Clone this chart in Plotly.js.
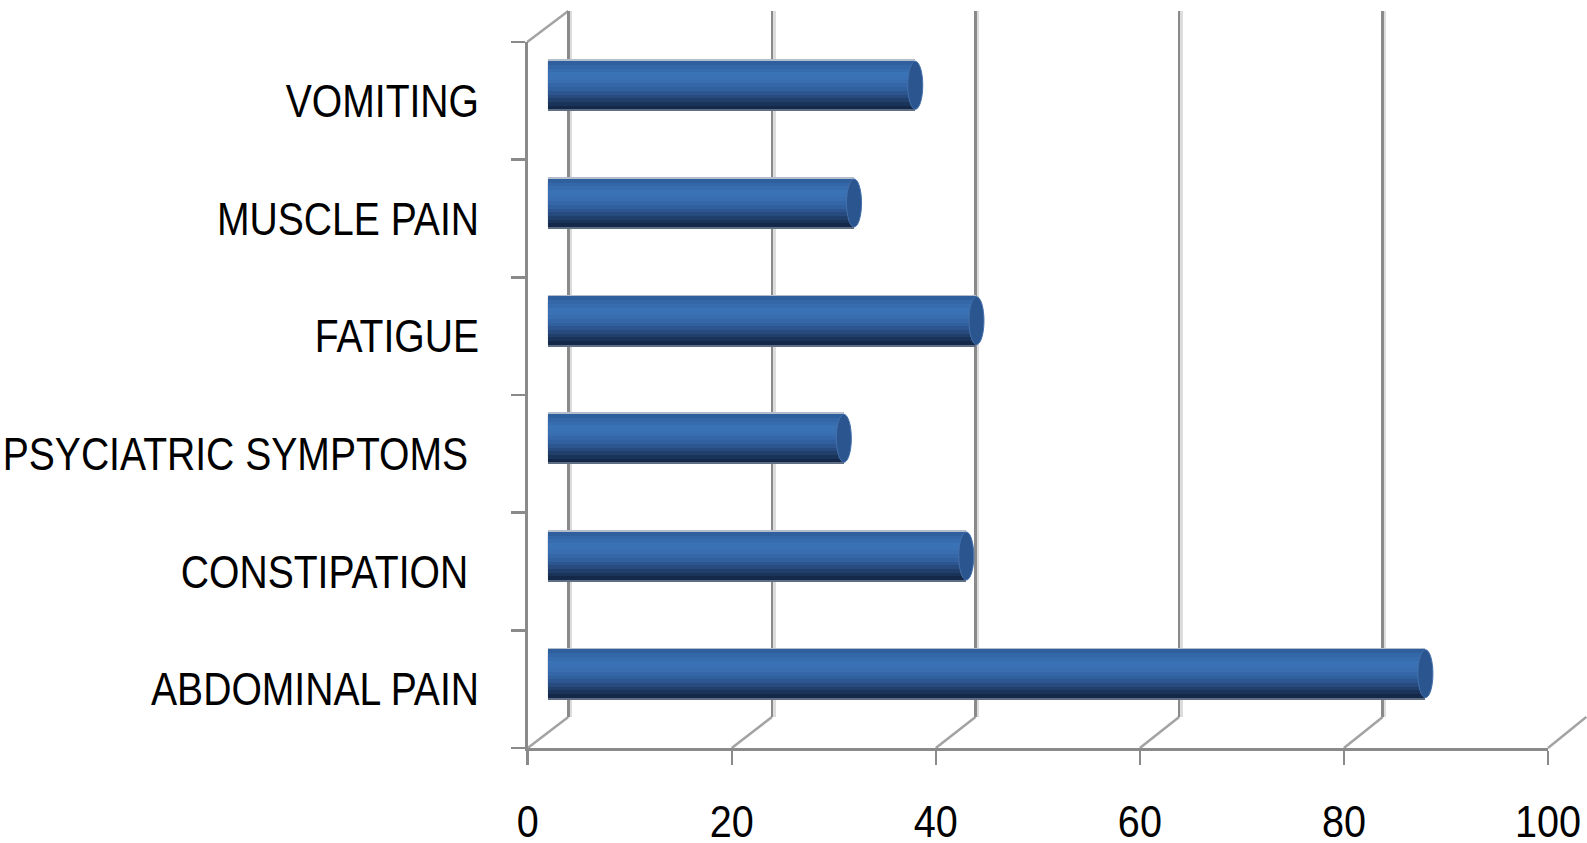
<!DOCTYPE html>
<html>
<head>
<meta charset="utf-8">
<script src="https://cdn.plot.ly/plotly-3.0.1.min.js"></script>
<style>
html,body{margin:0;padding:0;background:#fff;overflow:hidden;}
#chart{width:1587px;height:843px;}
/* the reference uses a condensed face: squeeze the real text labels */
#chart .yaxislayer-above g.ytick{transform-box:fill-box;transform-origin:100% 50%;transform:scaleX(0.85);}
#chart .xaxislayer-above g.xtick{transform-box:fill-box;transform-origin:50% 50%;transform:scaleX(0.9);}
</style>
</head>
<body>
<div id="chart"></div>
<script>
// ---- data (bottom to top, as Plotly lists categories) ----
var categories = ["ABDOMINAL PAIN", "CONSTIPATION", "PSYCIATRIC SYMPTOMS", "FATIGUE", "MUSCLE PAIN", "VOMITING"];
var values = [86, 41, 29, 42, 30, 36];
var yTickText = ["ABDOMINAL PAIN", "CONSTIPATION\u00a0", "PSYCIATRIC SYMPTOMS\u00a0", "FATIGUE", "MUSCLE PAIN", "VOMITING"];
var xTickVals = [0, 20, 40, 60, 80, 100];
var xTickText = ["0", "20", "40", "60", "80", "100"];

// ---- geometry of the pseudo-3D frame (pixels) ----
var W = 1587, H = 843;
var FX0 = 527.7, FX1 = 1548;   // front plane: x of 0 and 100
var FYT = 42, FYB = 748;       // front plane: top and bottom
var BX0 = 568.3, BPPU = 10.18; // back wall: x of 0, pixels per unit
var DX = 40.5, DY = 31;        // depth offset to the back wall
function px(x) { return x / W; }
function py(y) { return 1 - y / H; }
var pxPerUnit = (FX1 - FX0) / 100;

var T = 0.408;  // bar thickness in category units
var FONT = "'Liberation Sans', Arial, sans-serif";

function helper(xa, ya) {
  return {type: 'scatter', x: values, y: categories, xaxis: xa, yaxis: ya,
    mode: 'markers', marker: {opacity: 0}, hoverinfo: 'skip', showlegend: false};
}
var traces = [helper('x', 'y'), helper('x2', 'y2'), helper('x3', 'y3')];

// bar edges
var e = 0.016;
traces.push({type: 'bar', orientation: 'h', x: values, y: categories, xaxis: 'x4', yaxis: 'y4',
  width: T / 2 + e, offset: 0, marker: {color: '#b3bdcb', line: {width: 0}}, hoverinfo: 'skip', showlegend: false});
traces.push({type: 'bar', orientation: 'h', x: values, y: categories, xaxis: 'x4', yaxis: 'y4',
  width: T / 2 + e, offset: -T / 2 - e, marker: {color: '#5f6e82', line: {width: 0}}, hoverinfo: 'skip', showlegend: false});

// cylinder shading stripes, bottom to top
var stripes = ['#14294a', '#1a3459', '#203f6b', '#274b7f', '#2d5690', '#31609e', '#3567a8',
               '#386db0', '#3a71b5', '#3a72b6', '#376dae', '#3367a7', '#2f5f9d'];
var n = stripes.length;
for (var k = 0; k < n; k++) {
  traces.push({type: 'bar', orientation: 'h', x: values, y: categories, xaxis: 'x4', yaxis: 'y4',
    width: T / n + 0.002, offset: -T / 2 + k * T / n,
    marker: {color: stripes[k], line: {width: 0}}, hoverinfo: 'skip', showlegend: false});
}

// ---- shapes ----
var shapes = [];
// floor depth lines from front ticks to back wall
xTickVals.forEach(function (v) {
  var xf = FX0 + v * pxPerUnit;
  var xb = BX0 + v * BPPU;
  shapes.push({type: 'line', xref: 'paper', yref: 'paper', layer: 'below',
    x0: px(xf), y0: py(FYB), x1: px(xb), y1: py(FYB - DY),
    line: {color: '#a3a3a3', width: 2.5}});
});
// left wall top edge
shapes.push({type: 'line', xref: 'paper', yref: 'paper', layer: 'below',
  x0: px(FX0 - 0.5), y0: py(FYT), x1: px(BX0), y1: py(FYT - DY),
  line: {color: '#a3a3a3', width: 2.5}});

function halfEllipse(a, yb, yt) {
  var yc = (yb + yt) / 2, h = (yt - yb) / 2, kk = 0.5523;
  return 'M 0,' + yt + ' C ' + (-a * kk) + ',' + yt + ' ' + (-a) + ',' + (yc + h * kk) + ' ' + (-a) + ',' + yc +
         ' C ' + (-a) + ',' + (yc - h * kk) + ' ' + (-a * kk) + ',' + yb + ' 0,' + yb + ' Z';
}

// soft shadow at the base of the first bar
shapes.push({type: 'circle', xref: 'x4', yref: 'y4', xsizemode: 'pixel', xanchor: 0,
  x0: -17, x1: -4, y0: -0.4, y1: 0.4, fillcolor: 'rgba(110,110,110,0.2)', line: {width: 0}});

// bar ends built from the data
values.forEach(function (v, i) {
  var yb = i - T / 2, yt = i + T / 2;
  shapes.push({type: 'path', xref: 'x4', yref: 'y4', xsizemode: 'pixel', xanchor: 0,
    path: halfEllipse(8, yb, yt), fillcolor: '#1b365d', line: {width: 0}});
  shapes.push({type: 'path', xref: 'x4', yref: 'y4', xsizemode: 'pixel', xanchor: 0,
    path: halfEllipse(7.5, yb + 0.05, yt - 0.01), fillcolor: '#2a5490', line: {width: 0}});
  shapes.push({type: 'path', xref: 'x4', yref: 'y4', xsizemode: 'pixel', xanchor: 0,
    path: halfEllipse(6.5, yb + 0.12, yt - 0.05), fillcolor: '#3569aa', line: {width: 0}});
  // right end cap
  shapes.push({type: 'circle', xref: 'x4', yref: 'y4', xsizemode: 'pixel', xanchor: v,
    x0: -7.5, x1: 7.5, y0: yb, y1: yt, fillcolor: '#2a558e', line: {color: '#4470ab', width: 1}});
});

var backRange = [-0.5, (W - 1.5 - BX0) / BPPU];
var layout = {
  width: W, height: H,
  margin: {l: 0, r: 0, t: 0, b: 0, pad: 0},
  paper_bgcolor: '#ffffff', plot_bgcolor: 'rgba(0,0,0,0)',
  showlegend: false, barmode: 'overlay', bargap: 0,
  // front plane (visible axes)
  xaxis: {domain: [px(FX0), px(FX1)], range: [0, 100], anchor: 'y',
    tickmode: 'array', tickvals: xTickVals, ticktext: xTickText,
    ticks: 'outside', ticklen: 14, tickwidth: 2.5, tickcolor: '#8a8a8a',
    showline: true, linecolor: '#8a8a8a', linewidth: 2.5,
    showgrid: false, zeroline: false, ticklabelstandoff: 20,
    tickfont: {family: FONT, size: 44, color: '#000000'}, fixedrange: true},
  yaxis: {domain: [py(FYB), py(FYT)], type: 'category', anchor: 'x',
    categoryorder: 'array', categoryarray: categories, range: [-0.5, 5.5],
    tickmode: 'array', tickvals: categories, ticktext: yTickText,
    ticks: 'outside', tickson: 'boundaries', ticklen: 14, tickwidth: 2.5, tickcolor: '#8a8a8a',
    showline: true, linecolor: '#8a8a8a', linewidth: 2.5,
    showgrid: false, zeroline: false, ticklabelstandoff: 37,
    tickfont: {family: FONT, size: 46, color: '#000000'}, fixedrange: true},
  // back wall gridlines: light companion (drawn first) and dark line
  xaxis2: {domain: [px(BX0 + 2.5 - 0.5 * BPPU), 1], range: [backRange[0], backRange[1] + 1.5 / BPPU - 2.5 / BPPU], anchor: 'y2',
    tickmode: 'array', tickvals: xTickVals, showgrid: true, gridcolor: '#dcdcdc', gridwidth: 2.5,
    zeroline: false, showline: false, ticks: '', showticklabels: false, fixedrange: true},
  yaxis2: {domain: [py(FYB - DY), py(FYT - DY)], type: 'category', anchor: 'x2',
    categoryorder: 'array', categoryarray: categories, range: [-0.5, 5.5],
    visible: false, fixedrange: true},
  xaxis3: {domain: [px(BX0 - 0.5 * BPPU), px(W - 1.5)], range: backRange, anchor: 'y3',
    tickmode: 'array', tickvals: xTickVals, showgrid: true, gridcolor: '#8a8a8a', gridwidth: 2.5,
    zeroline: false, showline: false, ticks: '', showticklabels: false, fixedrange: true},
  yaxis3: {domain: [py(FYB - DY), py(FYT - DY)], type: 'category', anchor: 'x3',
    categoryorder: 'array', categoryarray: categories, range: [-0.5, 5.5],
    visible: false, fixedrange: true},
  // middle depth, where the cylinders sit
  xaxis4: {domain: [px(FX0 + DX / 2), px(FX1 + DX / 2)], range: [0, 100], anchor: 'y4',
    visible: false, fixedrange: true},
  yaxis4: {domain: [py(FYB - DY / 2), py(FYT - DY / 2)], type: 'category', anchor: 'x4',
    categoryorder: 'array', categoryarray: categories, range: [-0.5, 5.5],
    visible: false, fixedrange: true},
  shapes: shapes
};

Plotly.newPlot('chart', traces, layout, {displayModeBar: false, staticPlot: true});
</script>
</body>
</html>
